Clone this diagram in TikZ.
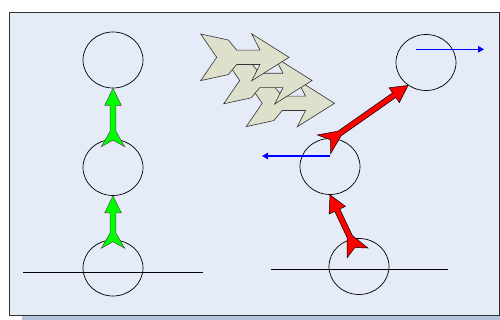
\documentclass[tikz,border=0pt]{standalone}
\usetikzlibrary{calc,arrows.meta,shapes.geometric}
\definecolor{bgfill}{HTML}{E6ECF7}
\definecolor{shadowc}{HTML}{B3C3DD}
\definecolor{grayarr}{HTML}{DDE0CA}
\definecolor{frameline}{HTML}{303030}
\definecolor{greenarr}{HTML}{00FF00}
\definecolor{redarr}{HTML}{FF0000}
% #1 style, #2 tip, #3 tail, #4 head length, #5 head half width,
% #6 shaft half width, #7 fletch length, #8 fletch half width, #9 notch depth
\newcommand{\fletcharrow}[9]{%
  \path[#1] let \p1=($(#3)-(#2)$), \n1={atan2(\y1,\x1)}, \n2={veclen(\x1,\y1)} in
    (#2)
    -- ($(#2)+(\n1:#4pt)+(\n1+90:#5pt)$)
    -- ($(#2)+(\n1:#4pt)+(\n1+90:#6pt)$)
    -- ($(#2)+(\n1:\n2-#7pt)+(\n1+90:#6pt)$)
    -- ($(#2)+(\n1:\n2)+(\n1+90:#8pt)$)
    -- ($(#2)+(\n1:\n2-#9pt)$)
    -- ($(#2)+(\n1:\n2)+(\n1-90:#8pt)$)
    -- ($(#2)+(\n1:\n2-#7pt)+(\n1-90:#6pt)$)
    -- ($(#2)+(\n1:#4pt)+(\n1-90:#6pt)$)
    -- ($(#2)+(\n1:#4pt)+(\n1-90:#5pt)$)
    -- cycle;}
\tikzset{
  circ/.style={ellipse, draw=black, line width=0.7pt, minimum width=60pt, minimum height=56pt, inner sep=0pt},
  groundline/.style={draw=black, line width=0.7pt},
  greenstyle/.style={fill=greenarr, draw=black!70, line width=0.5pt, line join=miter},
  redstyle/.style={fill=redarr, draw=black, line width=0.5pt, line join=miter},
  bluearrow/.style={draw=blue, line width=1.2pt, -{Triangle[length=6pt,width=6.5pt]}},
  grayarrowstyle/.style={fill=grayarr, draw=black!80, line width=0.6pt, line join=miter},
  grayarrowpic/.pic={\path[grayarrowstyle] (0,0) -- (-37.3,-23.5) -- (-29,-7.2) -- (-52.3,-7.2) -- (-60.7,-17.3) -- (-88.3,-23.3) -- (-72.3,0) -- (-88.3,23.3) -- (-60.7,17.3) -- (-52.3,7.2) -- (-29,7.2) -- (-37.3,23.5) -- cycle;}
}
\begin{document}
\begin{tikzpicture}[x=1pt,y=-1pt]
\useasboundingbox (0,0) rectangle (500,320);
% frame with shadow
\fill[shadowc] (22,17) rectangle (506,324);
\draw[frameline, fill=bgfill, line width=0.9pt] (9.5,12) rectangle (499,315);

% left column
\node[circ] (L1) at (113,60) {};
\node[circ] (L2) at (113,167.5) {};
\node[circ] (L3) at (113,268) {};
\coordinate (LgA) at (23,272);
\coordinate (LgB) at (203,272);
\draw[groundline] (LgA) -- (LgB);

% right column
\node[circ] (R1) at (426,62.5) {};
\node[circ] (R2) at (330,166.5) {};
\node[circ] (R3) at (359,266.5) {};
\coordinate (RgA) at (271,269);
\coordinate (RgB) at (448,269);
\draw[groundline] (RgA) -- (RgB);

% green arrows
\coordinate (gtailA) at (113,248.3);
\coordinate (gtailB) at (113,146.7);
\fletcharrow{greenstyle}{L2.south}{gtailA}{17}{8.3}{2.8}{15.5}{11.7}{6.6}
\fletcharrow{greenstyle}{L1.south}{gtailB}{17}{8.3}{2.8}{15.5}{11.7}{6.6}

% red arrows
\coordinate (rtailA) at (357.5,253);
\coordinate (rtailB) at (323.8,144.5);
\fletcharrow{redstyle}{R2.south}{rtailA}{17}{9}{2.8}{18}{11.5}{6}
\fletcharrow{redstyle}{R1.232}{rtailB}{17}{9}{2.8}{19}{11.5}{8}

% blue arrows
\coordinate (b1s) at (416,49.3);
\coordinate (b1e) at (484,49.3);
\coordinate (b2s) at (330,156);
\coordinate (b2e) at (262,156);
\draw[bluearrow] (b1s) -- (b1e);
\draw[bluearrow] (b2s) -- (b2e);

% gray arrows
\pic (g3) at (334.5,103.3) {grayarrowpic};
\pic (g2) at (312,80.5) {grayarrowpic};
\pic (g1) at (289,57.3) {grayarrowpic};
\end{tikzpicture}
\end{document}
